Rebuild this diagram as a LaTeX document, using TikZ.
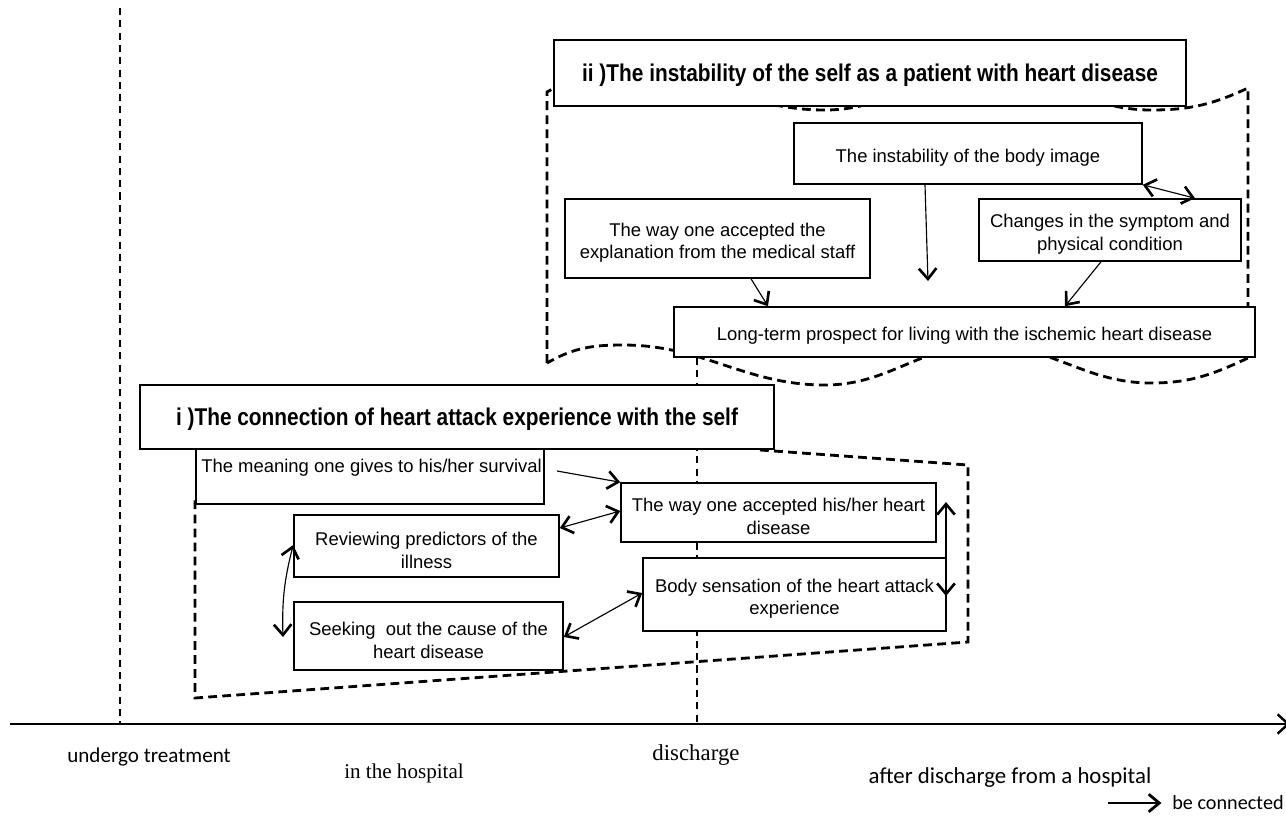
\documentclass[tikz,border=0pt]{standalone}
\usepackage{fontspec}
\setmainfont{Liberation Sans}
\newfontfamily\boxfont{Liberation Sans}
\newfontfamily\titlefont[FakeStretch=0.86]{Liberation Sans}
\newfontfamily\calfont{Carlito}
\newfontfamily\serfont{Liberation Serif}
\usetikzlibrary{arrows.meta}
% \bx[style]{name}{x1}{y1}{x2}{y2}{text}
\newcommand\bx[7][box]{%
  \node[#1, minimum width={(#5-#3)*0.02cm}, minimum height={(#6-#4)*0.02cm}] (#2) at ({(#3+#5)/2},{(#4+#6)/2}) {};%
  \node[#1 text] (#2-t) at ([yshift=-2.4pt]#2.center) {#7};}
\begin{document}
\begin{tikzpicture}[x=0.02cm,y=-0.02cm,
  box/.style={draw, line width=0.9pt, fill=white, inner sep=0pt},
  box text/.style={inner sep=0pt, align=center, font=\boxfont\fontsize{10.5}{13}\selectfont},
  tbox/.style={draw, line width=0.9pt, fill=white, inner sep=0pt},
  tbox text/.style={inner sep=0pt, yshift=1.4pt, font=\titlefont\bfseries\fontsize{13.8}{16}\selectfont},
  region/.style={line width=1.6pt, dash pattern=on 5pt off 3pt},
  vdash/.style={line width=0.6pt, dash pattern=on 4pt off 3pt},
  conn/.style={line width=0.65pt, -{Straight Barb[length=6pt,width=10pt,line width=1.5pt]}},
  dconn/.style={line width=0.65pt, {Straight Barb[length=6pt,width=10pt,line width=1.5pt]}-{Straight Barb[length=6pt,width=10pt,line width=1.5pt]}},
  lab/.style={font=\calfont\fontsize{12}{14}\selectfont, inner sep=0pt},
  slab/.style={font=\serfont\fontsize{12}{14}\selectfont, inner sep=0pt}
]
\useasboundingbox (0,0) rectangle (1286,816);

% time lines
\coordinate (ut) at (120,8);
\coordinate (ub) at (120,724);
\coordinate (dt) at (697,358);
\coordinate (db) at (697,724);
\draw[vdash] (ut) -- (ub);
\draw[vdash] (dt) -- (db);

% region ii (wavy flag)
\draw[region] (547,363) -- (547,92)
  to[out=30,in=180] (623,72) to[out=0,in=180] (825,110)
  to[out=0,in=180] (985,72) to[out=0,in=180] (1151,110)
  to[out=0,in=205] (1248,88) -- (1248,358)
  to[out=205,in=0] (1151,383) to[out=180,in=0] (985,345)
  to[out=180,in=0] (825,385) to[out=180,in=0] (623,345)
  to[out=180,in=30] (547,363);

% region i
\draw[region] (760,450) -- (968,465) -- (968,642) -- (195,698) -- (195,500);

% boxes of ii
\bx[tbox]{tii}{554}{40}{1186}{106}{ii )The instability of the self as a patient with heart disease}
\bx{body}{794}{123}{1142}{184}{The instability of the body image}
\bx{expl}{565}{199}{870}{278}{The way one accepted the\\explanation from the medical staff}
\bx{chg}{979}{199}{1241}{261}{Changes in the symptom and\\physical condition}
\bx{long}{674}{307}{1255}{357}{Long-term prospect for living with the ischemic heart disease}

% boxes of i
\bx[tbox]{ti}{140}{385}{774}{449}{i )The connection of heart attack experience with the self}
\node[box, minimum width={348*0.02cm}, minimum height={55*0.02cm}] (mean) at (370,476.5) {};
\node[box text, anchor=west] (meantxt) at (201,468) {The meaning one gives to his/her survival};
\bx{wayh}{621}{483}{936}{542}{The way one accepted his/her heart\\disease}
\bx{rev}{294}{515}{559}{577}{Reviewing predictors of the\\illness}
\bx{bodys}{643}{558}{946}{631}{Body sensation of the heart attack\\experience}
\bx{seek}{294}{602}{563}{670}{Seeking\ \ out the cause of the\\heart disease}

% connectors in ii
\coordinate (downend) at (928,281);
\draw[conn] (body.south -| 925,0) -- (downend);
\draw[conn] (expl.south -| 751,0) -- (long.north -| 768,0);
\draw[conn] (chg.south -| 1101,0) -- (long.north -| 1065,0);
\draw[dconn] (body.south east) -- (chg.north -| 1195,0);

% connectors in i
\draw[conn] (557,471) -- (wayh.north west);
\draw[dconn] (rev.east |- 0,528) -- (wayh.west |- 0,511);
\draw[dconn] (seek.east |- 0,637) -- (bodys.west |- 0,593);
\draw[dconn] (rev.west |- 0,545) to[bend right=8] (283,637);
\draw[dconn] (946,502) -- (946,596);

% axis
\coordinate (a0) at (10,724);
\coordinate (a1) at (1290,724);
\draw[line width=1.2pt, -{Straight Barb[length=6pt,width=11pt,line width=1.4pt]}] (a0) -- (a1);

% labels
\node[lab] (l1) at (149,757) {undergo treatment};
\node[slab] (l2) at (404,773) {in the hospital};
\node[slab, font=\serfont\fontsize{13}{15}\selectfont] (l3) at (696,755) {discharge};
\node[lab, font=\calfont\fontsize{13}{15}\selectfont] (l4) at (1010,778) {after discharge from a hospital};

% legend
\node[lab, anchor=east, font=\calfont\fontsize{11.5}{14}\selectfont] (lg) at (1284,803) {be connected};
\coordinate (lg0) at (1108,803);
\draw[line width=0.8pt, -{Straight Barb[length=6pt,width=10pt,line width=1.6pt]}] (lg0) -- ([xshift=-6pt]lg.west);
\end{tikzpicture}
\end{document}
